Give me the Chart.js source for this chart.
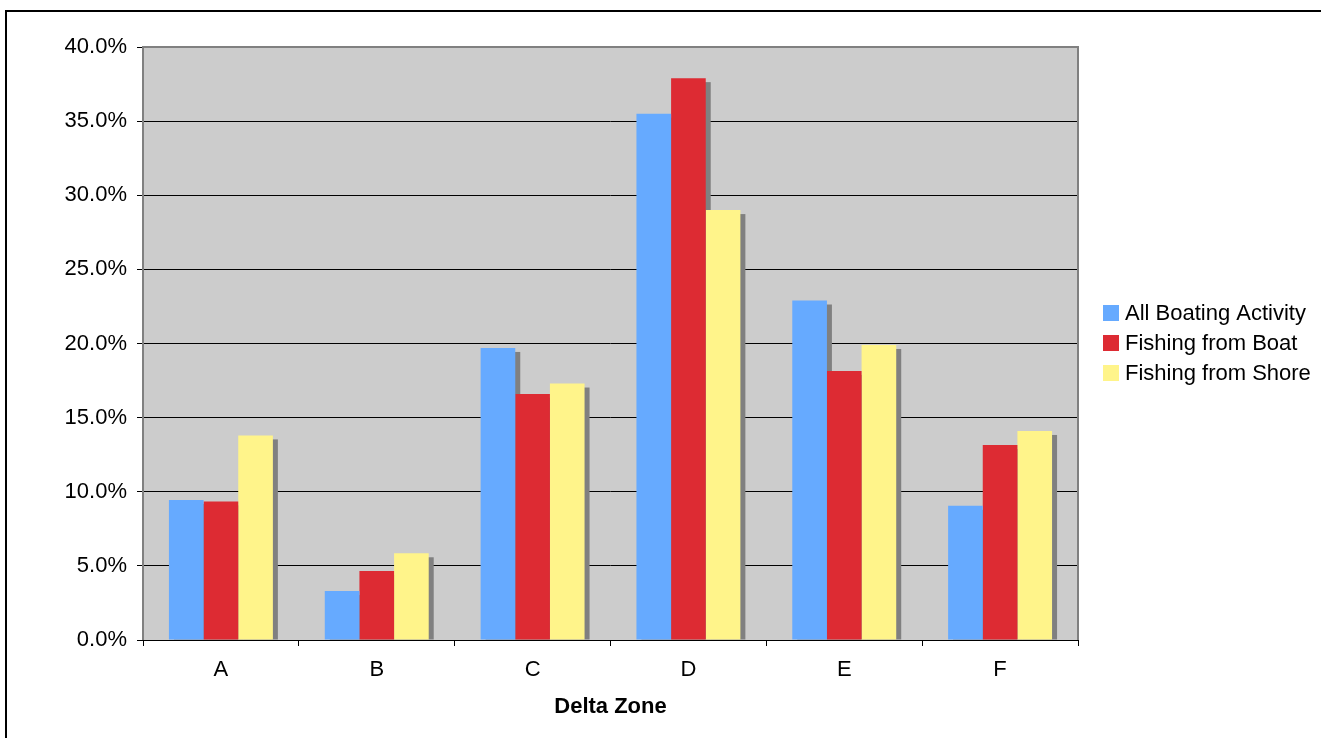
<!DOCTYPE html>
<html>
<head>
<meta charset="utf-8">
<script src="https://cdn.jsdelivr.net/npm/chart.js@4.4.0/dist/chart.umd.min.js"></script>
<style>
  html, body { margin: 0; padding: 0; background: #fff; }
  #wrap { width: 1321px; height: 738px; }
</style>
</head>
<body>
<div id="wrap"><canvas id="chartContainer" width="1321" height="738"></canvas></div>
<script>
// data
var zones = ['A', 'B', 'C', 'D', 'E', 'F'];
var allBoating = [9.45, 3.3, 19.7, 35.5, 22.9, 9.05];
var fishingBoat = [9.35, 4.65, 16.6, 37.9, 18.15, 13.15];
var fishingShore = [13.8, 5.85, 17.3, 29.0, 19.9, 14.1];
var seriesNames = ['All Boating Activity', 'Fishing from Boat', 'Fishing from Shore'];
var seriesColors = ['#66AAFF', '#DD2B33', '#FFF48A'];

var FONT = 'Arial, "Liberation Sans", sans-serif';

// grey plot background + outer frame + plot border
var framePlugin = {
    id: 'frame',
    beforeDraw: function(chart) {
        var a = chart.chartArea, ctx = chart.ctx;
        ctx.save();
        ctx.fillStyle = '#fff';
        ctx.fillRect(0, 0, chart.width, chart.height);
        ctx.fillStyle = '#CCCCCC';
        ctx.fillRect(a.left, a.top, a.right - a.left, a.bottom - a.top);
        ctx.restore();
    },
    afterDraw: function(chart) {
        var a = chart.chartArea, ctx = chart.ctx;
        ctx.save();
        ctx.strokeStyle = '#808080';
        ctx.lineWidth = 2;
        ctx.beginPath();
        ctx.moveTo(a.left, a.bottom);
        ctx.lineTo(a.left, a.top);
        ctx.lineTo(a.right, a.top);
        ctx.lineTo(a.right, a.bottom);
        ctx.stroke();
        ctx.strokeStyle = '#000';
        ctx.lineWidth = 2;
        ctx.strokeRect(6, 11, chart.width + 20, chart.height + 20);
        ctx.restore();
    }
};

// drop shadows behind each bar
var shadowPlugin = {
    id: 'barShadow',
    beforeDatasetsDraw: function(chart) {
        var a = chart.chartArea, ctx = chart.ctx;
        ctx.save();
        ctx.beginPath();
        ctx.rect(a.left, a.top, a.right - a.left, a.bottom - a.top);
        ctx.clip();
        ctx.fillStyle = '#808080';
        chart.data.datasets.forEach(function(ds, i) {
            chart.getDatasetMeta(i).data.forEach(function(bar) {
                var p = bar.getProps(['x', 'y', 'base', 'width'], true);
                var h = p.base - p.y - 4;
                if (h > 0) ctx.fillRect(p.x - p.width / 2 + 5, p.y + 4, p.width, h);
            });
        });
        ctx.restore();
    }
};

// legend on the right
var legendPlugin = {
    id: 'sideLegend',
    afterDraw: function(chart) {
        var ctx = chart.ctx;
        ctx.save();
        ctx.font = '22px ' + FONT;
        ctx.textBaseline = 'middle';
        chart.data.datasets.forEach(function(ds, i) {
            var y = 313 + i * 30;
            ctx.fillStyle = ds.backgroundColor;
            ctx.fillRect(1103, y - 8, 16, 16);
            ctx.fillStyle = '#000';
            ctx.fillText(ds.label, 1125, y + 1);
        });
        ctx.restore();
    }
};

var ctx = document.getElementById('chartContainer').getContext('2d');
var myChart = new Chart(ctx, {
    type: 'bar',
    data: {
        labels: zones,
        datasets: [
            { label: seriesNames[0], data: allBoating, backgroundColor: seriesColors[0] },
            { label: seriesNames[1], data: fishingBoat, backgroundColor: seriesColors[1] },
            { label: seriesNames[2], data: fishingShore, backgroundColor: seriesColors[2] }
        ]
    },
    plugins: [framePlugin, shadowPlugin, legendPlugin],
    options: {
        responsive: false,
        animation: false,
        devicePixelRatio: 1,
        layout: { padding: { left: 63, top: 47, right: 243, bottom: 18 } },
        datasets: {
            bar: { categoryPercentage: 0.667, barPercentage: 1.0, borderWidth: 0 }
        },
        plugins: {
            legend: { display: false },
            tooltip: { enabled: false }
        },
        scales: {
            x: {
                afterFit: function(s) { s.height = 80; },
                grid: { drawOnChartArea: false, tickLength: 6, color: '#000', offset: true },
                border: { color: '#000', width: 1 },
                ticks: { color: '#000', font: { family: FONT, size: 22 }, padding: 11, maxRotation: 0 },
                title: {
                    display: true,
                    text: 'Delta Zone',
                    color: '#000',
                    font: { family: FONT, size: 22, weight: 'bold' },
                    padding: { top: 0, bottom: 0 }
                }
            },
            y: {
                min: 0,
                max: 40,
                afterFit: function(s) { s.width = 80; },
                grid: { color: '#000', lineWidth: 1, tickLength: 6 },
                border: { display: false },
                ticks: {
                    stepSize: 5,
                    color: '#000',
                    padding: 10,
                    font: { family: FONT, size: 22 },
                    callback: function(v) { return v.toFixed(1) + '%'; }
                }
            }
        }
    }
});
</script>
</body>
</html>
